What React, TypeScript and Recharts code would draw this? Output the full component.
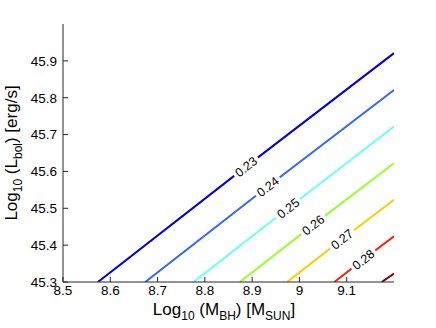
import { LabelList, Line, LineChart, XAxis, YAxis } from "recharts";

// contour levels
const levels = ["0.23", "0.24", "0.25", "0.26", "0.27", "0.28", "0.29"];
const lineColors = ["#0000d8", "#3366ff", "#66ffff", "#99ff33", "#ffcc00", "#ff1a00", "#800000"];
// where each contour leaves the bottom edge (y = 45.3)
const startX = [8.574, 8.674, 8.776, 8.874, 8.974, 9.074, 9.174];
const bottomY = [45.3, 45.3, 45.3, 45.3, 45.3, 45.3, 45.3];
// where each contour meets the right edge (x = 9.2)
const endX = [9.2, 9.2, 9.2, 9.2, 9.2, 9.2, 9.2];
const endY = [45.921, 45.821, 45.722, 45.622, 45.523, 45.424, 45.323];
// inline label positions (null = no label)
const labelX = [8.887, 8.933, 8.976, 9.029, 9.09, 9.135, null];
const labelY = [45.613, 45.559, 45.5, 45.455, 45.416, 45.361, null];

const xTicks = [8.5, 8.6, 8.7, 8.8, 8.9, 9, 9.1];
const yTicks = [45.3, 45.4, 45.5, 45.6, 45.7, 45.8, 45.9];

const AXIS = "#262626";
const FONT = "Arial, 'Liberation Sans', Helvetica, sans-serif";

type Pt = { x: number; y: number; tag?: string };

function contourData(i: number): Pt[] {
  const pts: Pt[] = [{ x: startX[i], y: bottomY[i] }];
  const lx = labelX[i];
  const ly = labelY[i];
  if (lx != null && ly != null) {
    pts.push({ x: lx, y: ly, tag: levels[i] });
  }
  pts.push({ x: endX[i], y: endY[i] });
  return pts;
}

function ContourLabel(props: any) {
  const { x, y, value } = props;
  if (!value) return null;
  return (
    <g transform={`rotate(-38, ${x}, ${y})`}>
      <rect x={x - 15} y={y - 7} width={30} height={14} fill="#ffffff" />
      <text
        x={x}
        y={y}
        dy="0.36em"
        textAnchor="middle"
        fontSize={12.5}
        fontFamily={FONT}
        fill="#000"
      >
        {value}
      </text>
    </g>
  );
}

function BottomTick(props: any) {
  const { x, y, payload } = props;
  return (
    <g>
      <line x1={x} x2={x} y1={y} y2={y - 5} stroke={AXIS} />
      <text x={x} y={y + 13} textAnchor="middle" fontSize={13.5} fontFamily={FONT} fill="#000">
        {payload.value}
      </text>
    </g>
  );
}

function LeftTick(props: any) {
  const { x, y, payload } = props;
  return (
    <g>
      <line x1={x} x2={x + 5} y1={y} y2={y} stroke={AXIS} />
      <text x={x - 6} y={y} dy="0.36em" textAnchor="end" fontSize={13.5} fontFamily={FONT} fill="#000">
        {payload.value.toFixed(1)}
      </text>
    </g>
  );
}

export default function App() {
  return (
    <div style={{ position: "absolute", left: 0, top: 0, width: 436, height: 328, background: "#fff" }}>
      <LineChart width={436} height={328} margin={{ top: 24, right: 42, bottom: 0, left: 0 }}>
        <XAxis
          xAxisId={0}
          type="number"
          dataKey="x"
          domain={[8.5, 9.2]}
          ticks={xTicks}
          allowDataOverflow
          height={46}
          tickSize={0}
          tickMargin={0}
          tickLine={false}
          axisLine={{ stroke: AXIS }}
          tick={<BottomTick />}
        />
        <XAxis
          xAxisId="top"
          orientation="top"
          type="number"
          dataKey="x"
          domain={[8.5, 9.2]}
          ticks={xTicks}
          allowDataOverflow
          height={0}
          mirror
          tick={false}
          tickSize={5}
          tickLine={{ stroke: AXIS }}
          axisLine={{ stroke: AXIS }}
        />
        <YAxis
          yAxisId={0}
          type="number"
          dataKey="y"
          domain={[45.3, 46.0]}
          ticks={yTicks}
          allowDataOverflow
          width={63}
          tickSize={0}
          tickMargin={0}
          tickLine={false}
          axisLine={{ stroke: AXIS }}
          tick={<LeftTick />}
        />
        <YAxis
          yAxisId="right"
          orientation="right"
          type="number"
          dataKey="y"
          domain={[45.3, 46.0]}
          ticks={yTicks}
          allowDataOverflow
          width={0}
          mirror
          tick={false}
          tickSize={5}
          tickLine={{ stroke: AXIS }}
          axisLine={{ stroke: AXIS }}
        />
        {levels.map((lv, i) => (
          <Line
            key={lv}
            data={contourData(i)}
            dataKey="y"
            xAxisId={0}
            yAxisId={0}
            type="linear"
            stroke={lineColors[i]}
            strokeWidth={2}
            dot={false}
            activeDot={false}
            isAnimationActive={false}
          >
            <LabelList dataKey="tag" content={<ContourLabel />} />
          </Line>
        ))}
      </LineChart>
      <svg
        width={436}
        height={328}
        style={{ position: "absolute", left: 0, top: 0, pointerEvents: "none" }}
      >
        <text x={224} y={315} textAnchor="middle" fontSize={17} fontFamily={FONT} fill="#000">
          Log
          <tspan fontSize={12} dy={5}>10</tspan>
          <tspan dy={-5}> (M</tspan>
          <tspan fontSize={12} dy={5}>BH</tspan>
          <tspan dy={-5}>) [M</tspan>
          <tspan fontSize={12} dy={5}>SUN</tspan>
          <tspan dy={-5}>]</tspan>
        </text>
        <text
          x={0}
          y={0}
          transform="translate(17, 153) rotate(-90)"
          textAnchor="middle"
          fontSize={17}
          fontFamily={FONT}
          fill="#000"
        >
          Log
          <tspan fontSize={12} dy={5}>10</tspan>
          <tspan dy={-5}> (L</tspan>
          <tspan fontSize={12} dy={5}>bol</tspan>
          <tspan dy={-5}>) [erg/s]</tspan>
        </text>
      </svg>
    </div>
  );
}
